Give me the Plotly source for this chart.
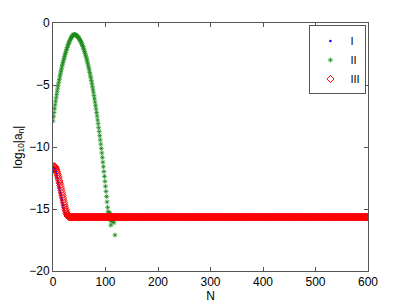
import plotly.graph_objects as go

# Series I (blue dots) — only visible near the start, under series III
n_I = list(range(0, 26))
v_I = [-12.0, -11.75, -11.65, -11.7, -11.8, -11.95, -12.1, -12.3, -12.5, -12.7,
       -12.9, -13.1, -13.3, -13.5, -13.7, -13.9, -14.1, -14.3, -14.5, -14.7,
       -14.9, -15.1, -15.3, -15.45, -15.55, -15.62]

# Series II (green stars)
n_II = list(range(0, 119))
v_II = [-7.90, -7.55, -7.22, -6.90, -6.60, -6.31, -6.03, -5.76, -5.50, -5.25,
        -5.01, -4.78, -4.56, -4.34, -4.13, -3.93, -3.73, -3.54, -3.36, -3.18,
        -3.01, -2.85, -2.69, -2.54, -2.39, -2.25, -2.12, -1.99, -1.86, -1.74,
        -1.63, -1.52, -1.42, -1.33, -1.24, -1.16, -1.09, -1.03, -0.98, -0.95,
        -0.93, -0.93, -0.94, -0.96, -0.98, -1.02, -1.05, -1.10, -1.15, -1.21,
        -1.27, -1.34, -1.42, -1.50, -1.60, -1.70, -1.80, -1.91, -2.03, -2.16,
        -2.29, -2.43, -2.58, -2.73, -2.89, -3.06, -3.23, -3.41, -3.60, -3.79,
        -3.99, -4.20, -4.41, -4.63, -4.86, -5.10, -5.34, -5.58, -5.84, -6.10,
        -6.37, -6.65, -6.93, -7.22, -7.51, -7.82, -8.12, -8.44, -8.76, -9.09,
        -9.43, -9.77, -10.12, -10.48, -10.84, -11.22, -11.59, -11.98, -12.37, -12.77,
        -13.17, -13.58, -14.00, -14.43, -14.86, -15.20, -15.40, -15.50, -15.30, -15.90,
        -16.30, -15.70, -16.00, -15.80, -15.90, -15.60, -16.10, -15.80, -17.10]

# Series III (red diamonds)
n_III = list(range(0, 601))
v_III_head = [-11.75, -11.6, -11.55, -11.57, -11.62, -11.7, -11.8, -11.95, -12.1, -12.25,
              -12.4, -12.58, -12.75, -12.92, -13.1, -13.3, -13.5, -13.7, -13.9, -14.1,
              -14.3, -14.5, -14.7, -14.88, -15.05, -15.2, -15.35, -15.45, -15.55, -15.6,
              -15.62, -15.64]
plateau = -15.65
v_III = v_III_head + [plateau] * (len(n_III) - len(v_III_head))

x_ticks = [0, 100, 200, 300, 400, 500, 600]
y_ticks = [0, -5, -10, -15, -20]

FONT = "Liberation Sans, Arial, sans-serif"

fig = go.Figure()
fig.add_trace(go.Scatter(x=n_I, y=v_I, mode="markers", name="I",
                         marker=dict(symbol="circle", size=2.5, color="#0000ff")))
fig.add_trace(go.Scatter(x=n_II, y=v_II, mode="markers", name="II",
                         marker=dict(symbol="asterisk-open", size=4,
                                     color="#1a8c1a",
                                     line=dict(color="#1a8c1a", width=0.8))))
fig.add_trace(go.Scatter(x=n_III, y=v_III, mode="markers", name="III",
                         marker=dict(symbol="diamond-open", size=5.5, color="#ff0000",
                                     line=dict(color="#ff0000", width=1))))

axis_common = dict(showline=True, linecolor="#555555", linewidth=1, mirror="ticks",
                   ticks="inside", ticklen=4, tickcolor="#555555",
                   showgrid=False, zeroline=False, automargin=False,
                   tickfont=dict(family=FONT, size=12, color="black"))

fig.update_xaxes(range=[0, 600], tickvals=x_ticks,
                 title=dict(text="N", standoff=0,
                            font=dict(family=FONT, size=12, color="black")),
                 **axis_common)
fig.update_yaxes(range=[-20, 0], tickvals=y_ticks,
                 title=dict(text="log<sub>10</sub>|a<sub>n</sub>|", standoff=4,
                            font=dict(family=FONT, size=12, color="black")),
                 **axis_common)

# page body adds an 8px offset, so margins are shifted to compensate
fig.update_layout(width=407, height=306,
                  margin=dict(l=45, r=47, t=15, b=43, autoexpand=False),
                  paper_bgcolor="white", plot_bgcolor="white",
                  font=dict(family=FONT, size=12, color="black"),
                  showlegend=True,
                  legend=dict(x=0.995, y=0.99, xanchor="right", yanchor="top",
                              bgcolor="white", bordercolor="#555555", borderwidth=1,
                              itemwidth=30, tracegroupgap=0,
                              font=dict(family=FONT, size=11)))

fig.write_html("out.html")
